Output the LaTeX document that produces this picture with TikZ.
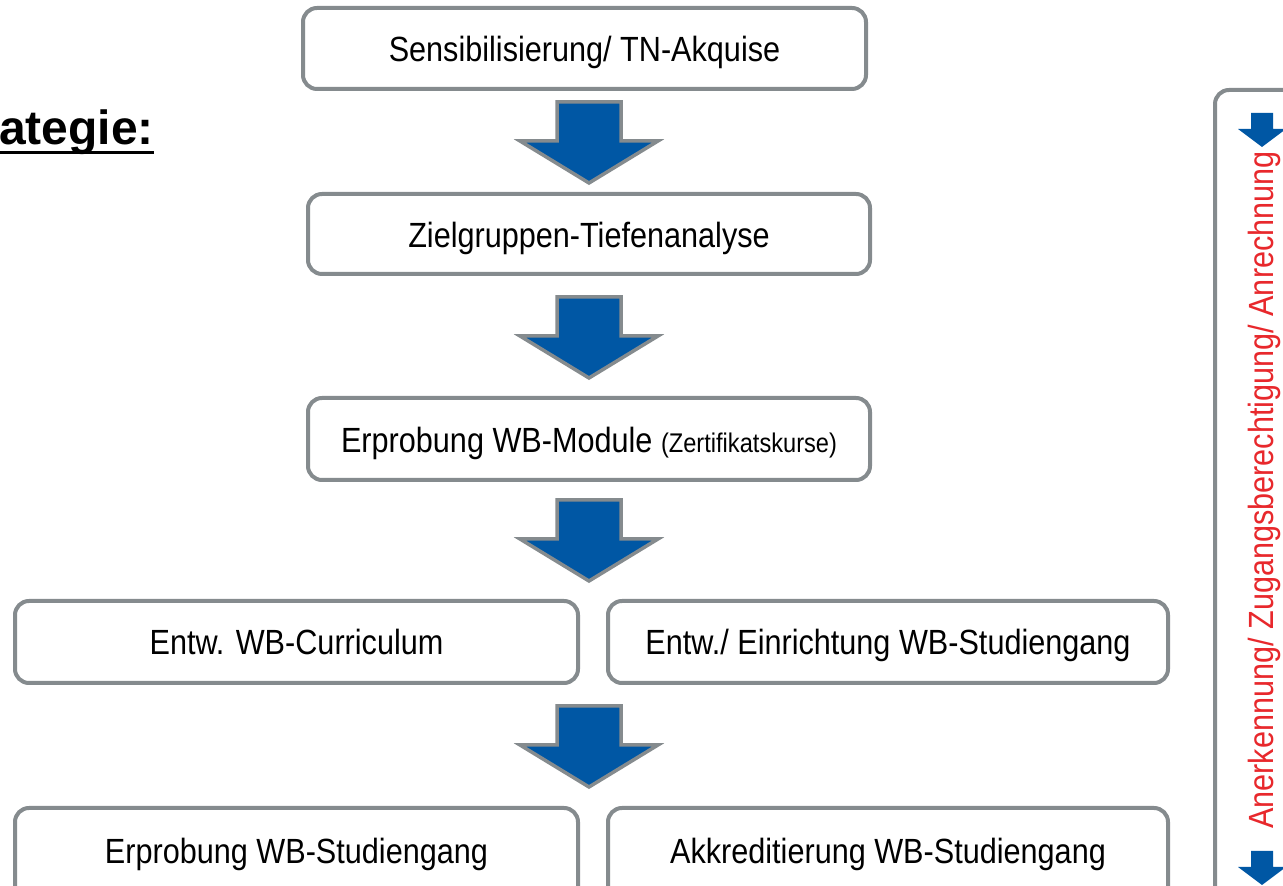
\documentclass[tikz,border=0pt]{standalone}
\usepackage{fontspec}
\setmainfont{Liberation Sans}[FakeStretch=0.875]
\newfontfamily\titlefont{Liberation Sans}
\definecolor{boxgray}{HTML}{858B8E}
\definecolor{arrblue}{HTML}{0057A4}
\definecolor{txtred}{HTML}{E8282C}
\tikzset{
  stepbox/.style={draw=boxgray, line width=4pt, rounded corners=14pt, fill=white},
  boxtext/.style={font=\fontsize{35}{40}\selectfont, text=black, anchor=base, inner sep=0pt},
  bigarrowstyle/.style={draw=boxgray, fill=arrblue, line width=3.5pt, line join=miter}
}
\newcommand\BigArrow[2]{%
  \begin{scope}[shift={(#1,#2)}]
    \draw[bigarrowstyle]
      (-32,0) -- (32,0) -- (32,39) -- (69,39) -- (0,81) -- (-69,39) -- (-32,39) -- cycle;
  \end{scope}}
\newcommand\SmallArrow[2]{%
  \begin{scope}[shift={(#1,#2)}]
    \fill[arrblue] (-11,0) -- (11,0) -- (11,16) -- (24,16) -- (0,34) -- (-24,16) -- (-11,16) -- cycle;
  \end{scope}}
\begin{document}
\begin{tikzpicture}[x=1pt,y=1pt]
\useasboundingbox (0,0) rectangle (1283,886);
\clip (0,0) rectangle (1283,886);
\begin{scope}[yshift=886pt, y=-1pt]

% title fragment
\node[anchor=base west, inner sep=0pt, font=\titlefont\fontsize{48}{52}\bfseries\selectfont] (title) at (-1,145) {ategie:};
\coordinate (ulstart) at (0,152.5);
\draw[line width=3.5pt] (ulstart) -- (ulstart -| title.east);

% boxes
\draw[stepbox] (303,8) rectangle (866,89);
\node[boxtext] (b1) at (584.5,62) {Sensibilisierung/ TN-Akquise};

\draw[stepbox] (308,194) rectangle (870,274);
\node[boxtext] (b2) at (589,247.5) {Zielgruppen-Tiefenanalyse};

\draw[stepbox] (308,398) rectangle (870,480);
\node[boxtext] (b3) at (589,453) {Erprobung WB-Module {\fontsize{27}{30}\selectfont(Zertifikatskurse)}};

\draw[stepbox] (15,601) rectangle (578,683);
\node[boxtext] (b4) at (296.5,655) {Entw. WB-Curriculum};

\draw[stepbox] (608,601) rectangle (1168,683);
\node[boxtext] (b5) at (888,655) {Entw./ Einrichtung WB-Studiengang};

\draw[stepbox] (15,808) rectangle (578,910);
\node[boxtext] (b6) at (296.5,864) {Erprobung WB-Studiengang};

\draw[stepbox] (608,808) rectangle (1168,910);
\node[boxtext] (b7) at (888,864) {Akkreditierung WB-Studiengang};

% big arrows
\BigArrow{589}{102}
\BigArrow{589}{297}
\BigArrow{589}{500}
\BigArrow{589}{706}

% right vertical box
\draw[stepbox] (1215,90) rectangle (1320,910);
\SmallArrow{1262}{113}
\SmallArrow{1262}{851}
\node[boxtext, anchor=center, text=txtred, rotate=90] (side) at (1264,490) {Anerkennung/ Zugangsberechtigung/ Anrechnung};
\end{scope}
\end{tikzpicture}
\end{document}
